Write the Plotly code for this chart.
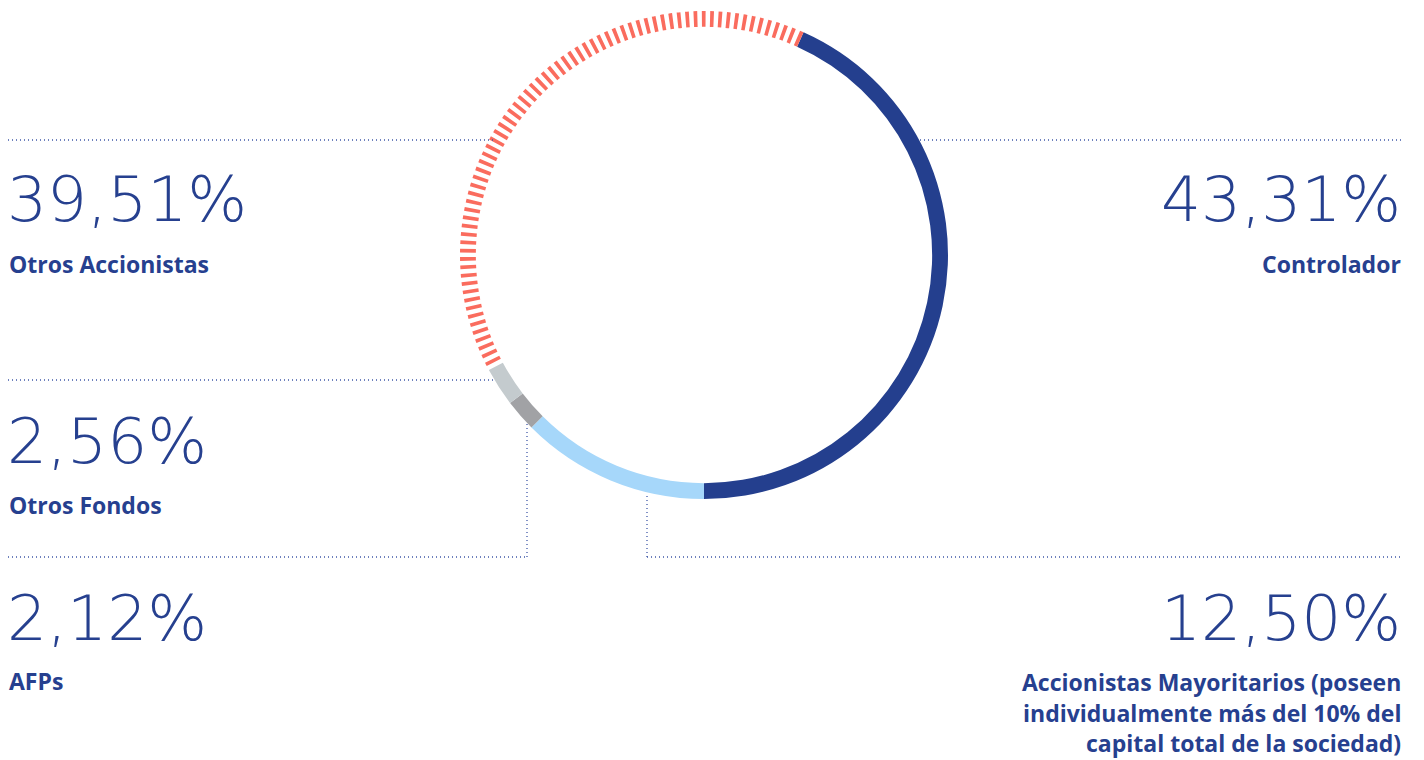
import plotly.graph_objects as go

W, H = 1424, 760

# Data
categories = ["Controlador",
              "Accionistas Mayoritarios (poseen individualmente más del 10% del capital total de la sociedad)",
              "AFPs", "Otros Fondos", "Otros Accionistas"]
values = [43.31, 12.50, 2.12, 2.56, 39.51]
value_labels = ["43,31%", "12,50%", "2,12%", "2,56%", "39,51%"]
colors = ["#243F8E", "#A6D7FA", "#A1A2A5", "#C4CBCE", "#FA6C5E"]

DARK = "#26408F"
DOT = "#3F58A8"

# Build ring slices (the "Otros Accionistas" arc is drawn as radial dashes)
N_DASH = 72
DASH_FRAC = 0.45
pie_vals, pie_cols = [], []
for v, c, name in zip(values, colors, categories):
    if name == "Otros Accionistas":
        per = v / N_DASH
        for _ in range(N_DASH):
            pie_vals += [per * (1 - DASH_FRAC), per * DASH_FRAC]
            pie_cols += ["rgba(255,255,255,0)", c]
    else:
        pie_vals.append(v)
        pie_cols.append(c)

rotation = 180 - values[0] / sum(values) * 360

def px(x):
    return x / W

def py(y):
    return 1 - y / H

cx, cy, R = 704, 255, 244

fig = go.Figure()
fig.add_trace(go.Pie(
    values=pie_vals,
    marker=dict(colors=pie_cols, line=dict(width=0)),
    sort=False, direction="clockwise", rotation=rotation,
    hole=0.935, textinfo="none", hoverinfo="skip", showlegend=False,
    domain=dict(x=[px(cx - R), px(cx + R)], y=[py(cy + R), py(cy - R)]),
))

# Dotted leader lines
line_style = dict(color=DOT, width=1.3, dash="1px,3px")
segments = [
    (8, 140, 495, 140),
    (920, 140, 1403, 140),
    (8, 380, 495, 380),
    (8, 557, 527, 557), (527, 557, 527, 424),
    (647, 557, 1403, 557), (647, 557, 647, 494),
]
for x0, y0, x1, y1 in segments:
    fig.add_shape(type="line", xref="paper", yref="paper",
                  x0=px(x0), y0=py(y0), x1=px(x1), y1=py(y1), line=line_style)

big_font = dict(family="DejaVu Sans", size=63, color=DARK, weight=200)
lab_font = dict(family="Open Sans", size=23, color=DARK, weight=700)

def ann(text, x, y, xanchor, font):
    fig.add_annotation(text=text, xref="paper", yref="paper", x=px(x), y=py(y),
                       xanchor=xanchor, yanchor="middle", showarrow=False,
                       font=font, borderpad=0)

# Otros Accionistas
ann(value_labels[4], 6, 200, "left", big_font)
ann("Otros Accionistas", 8, 263.5, "left", lab_font)
# Controlador
ann(value_labels[0], 1402, 200, "right", big_font)
ann("Controlador", 1402, 263.5, "right", lab_font)
# Otros Fondos
ann(value_labels[3], 6, 441, "left", big_font)
ann("Otros Fondos", 8, 504.5, "left", lab_font)
# AFPs
ann(value_labels[2], 6, 618.5, "left", big_font)
ann("AFPs", 8, 681, "left", lab_font)
# Accionistas Mayoritarios
ann(value_labels[1], 1402, 618.5, "right", big_font)
ann("Accionistas Mayoritarios (poseen", 1402, 682, "right", lab_font)
ann("individualmente más del 10% del", 1402, 712.5, "right", lab_font)
ann("capital total de la sociedad)", 1402, 743, "right", lab_font)

fig.update_layout(width=W, height=H, margin=dict(l=0, r=0, t=0, b=0),
                  paper_bgcolor="white", plot_bgcolor="white")
fig.write_html("out.html")
